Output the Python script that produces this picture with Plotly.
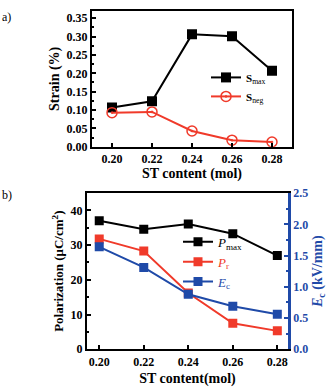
import plotly.graph_objects as go

st = [0.20, 0.22, 0.24, 0.26, 0.28]
s_max = [0.107, 0.124, 0.306, 0.301, 0.207]
s_neg = [0.093, 0.095, 0.043, 0.018, 0.013]
p_max = [37.0, 34.6, 36.1, 33.3, 27.0]
p_r = [31.8, 28.3, 16.2, 7.5, 5.3]
e_c = [1.64, 1.31, 0.88, 0.69, 0.56]
x_ticks = ["0.20", "0.22", "0.24", "0.26", "0.28"]

FONT = "Times New Roman, DejaVu Serif, serif"
BLUE = "#1f4aa8"
RED = "#f03a2a"

fig = go.Figure()
fig.add_trace(go.Scatter(x=st, y=s_max, mode="lines+markers", name="<b>S</b><sub>max</sub>",
                         line=dict(color="black", width=2),
                         marker=dict(symbol="square", size=10, color="black"),
                         xaxis="x", yaxis="y", legend="legend"))
fig.add_trace(go.Scatter(x=st, y=s_neg, mode="lines+markers", name="<b>S</b><sub>neg</sub>",
                         line=dict(color=RED, width=2),
                         marker=dict(symbol="circle-open-dot", size=10, color=RED, line=dict(width=1.5)),
                         xaxis="x", yaxis="y", legend="legend"))
fig.add_trace(go.Scatter(x=st, y=p_max, mode="lines+markers", name="<i>P</i><sub>max</sub>",
                         line=dict(color="black", width=2),
                         marker=dict(symbol="square", size=9, color="black"),
                         xaxis="x2", yaxis="y2", legend="legend2"))
fig.add_trace(go.Scatter(x=st, y=p_r, mode="lines+markers",
                         name=f'<span style="color:{RED}"><i>P</i><sub>r</sub></span>',
                         line=dict(color=RED, width=2),
                         marker=dict(symbol="square", size=9, color=RED),
                         xaxis="x2", yaxis="y2", legend="legend2"))
fig.add_trace(go.Scatter(x=st, y=e_c, mode="lines+markers",
                         name=f'<span style="color:{BLUE}"><i>E</i><sub>c</sub></span>',
                         line=dict(color=BLUE, width=2),
                         marker=dict(symbol="square", size=9, color=BLUE),
                         xaxis="x2", yaxis="y3", legend="legend2"))

axfont = dict(family=FONT, size=12, color="black", weight="bold")
titfont = dict(family=FONT, size=14, color="black", weight="bold")

common = dict(showline=True, linecolor="black", linewidth=2, ticks="inside", ticklen=4,
              tickwidth=1.5, tickcolor="black", showgrid=False, zeroline=False, tickfont=axfont)

fig.update_layout(
    width=330, height=390, margin=dict(l=0, r=0, t=0, b=0),
    paper_bgcolor="white", plot_bgcolor="white", font=dict(family=FONT),
    xaxis=dict(domain=[92/330, 292/330], anchor="y", range=[0.19, 0.29],
               tickvals=st, ticktext=x_ticks, mirror=True,
               title=dict(text="ST content (mol)", font=titfont, standoff=2), **common),
    yaxis=dict(domain=[1-145/390, 1-4/390], anchor="x", range=[0, 0.37],
               dtick=0.05, tickformat=".2f", mirror=True,
               minor=dict(ticks="inside", ticklen=2, dtick=0.025, tickcolor="black"),
               title=dict(text="Strain (%)", font=titfont, standoff=4), **common),
    xaxis2=dict(domain=[87/330, 288/330], anchor="y2", range=[0.1945, 0.2848],
                tickvals=st, ticktext=x_ticks, mirror=True,
                title=dict(text="ST content(mol)", font=titfont, standoff=6), **common),
    yaxis2=dict(domain=[1-355/390, 1-193/390], anchor="x2", range=[0, 45],
                dtick=10, mirror=False,
                minor=dict(ticks="inside", ticklen=2, dtick=5, tickcolor="black"),
                title=dict(text="Polarization (μC/cm<sup>2</sup>)", font=dict(family=FONT, size=13, color="black", weight="bold"), standoff=4),
                **common),
    yaxis3=dict(overlaying="y2", side="right", anchor="x2", range=[0, 2.5], dtick=0.5,
                tickformat=".1f", showline=True, linecolor=BLUE, linewidth=2.5,
                ticks="inside", ticklen=4, tickwidth=1.5, tickcolor=BLUE,
                minor=dict(ticks="inside", ticklen=2, dtick=0.25, tickcolor=BLUE),
                showgrid=False, zeroline=False,
                tickfont=dict(family=FONT, size=12, color=BLUE, weight="bold"),
                title=dict(text="<i>E</i><sub>c</sub> (kV/mm)", font=dict(family=FONT, size=14, color=BLUE, weight="bold"), standoff=6)),
    legend=dict(x=206/330, y=1-58/390, xanchor="left", yanchor="top", bgcolor="rgba(0,0,0,0)",
                font=dict(family=FONT, size=11, color="black"), itemwidth=30, tracegroupgap=0),
    legend2=dict(x=178/330, y=1-228/390, xanchor="left", yanchor="top", bgcolor="rgba(0,0,0,0)",
                 font=dict(family=FONT, size=13, color="black"), itemwidth=30),
    showlegend=True,
    annotations=[
        dict(text="a)", x=0, y=1-10/390, xref="paper", yref="paper", xanchor="left", yanchor="middle",
             showarrow=False, font=dict(family=FONT, size=12, color="black")),
        dict(text="b)", x=0, y=1-195/390, xref="paper", yref="paper", xanchor="left", yanchor="middle",
             showarrow=False, font=dict(family=FONT, size=12, color="black")),
    ],
)

fig.write_html("out.html")
